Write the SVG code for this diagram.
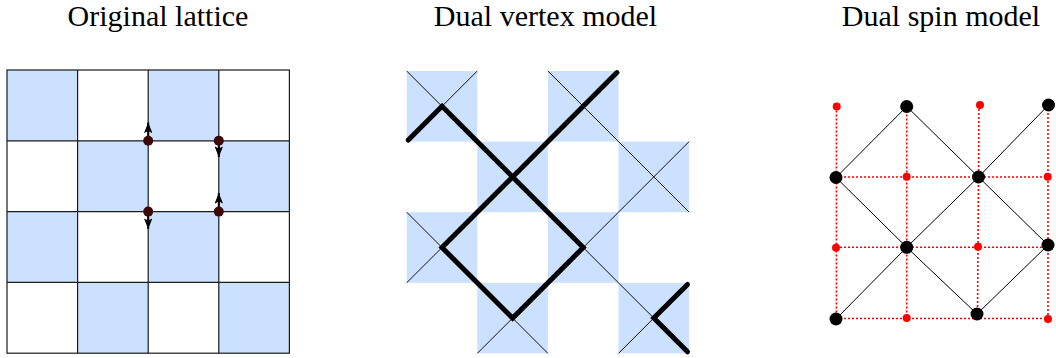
<svg xmlns="http://www.w3.org/2000/svg" width="1056" height="358" viewBox="0 0 1056 358">
<defs>
<style>
.title{font-family:"Liberation Serif","Times New Roman",serif;font-size:30px;fill:#000;text-anchor:middle}
.cell{fill:#cce0ff}
.grid{fill:none;stroke:#1a1a1a;stroke-width:1.2}
.thin{fill:none;stroke:#111;stroke-width:1}
.thick{fill:none;stroke:#000;stroke-width:5;stroke-linejoin:miter;stroke-linecap:round}
.arrow{stroke:#000;stroke-width:2;marker-end:url(#ah)}
.vdot{fill:#3d0808}
.red{fill:none;stroke:#ff0000;stroke-width:1.6;stroke-dasharray:2 2}
.bond{fill:none;stroke:#000;stroke-width:1}
.spin{fill:#000}
.rdot{fill:#ff0000}
</style>
<marker id="ah" viewBox="0 0 10 8" refX="10" refY="4" markerWidth="11" markerHeight="8.5" markerUnits="userSpaceOnUse" orient="auto">
<path d="M0,0 L10,4 L0,8 L2,4 Z" fill="#000"/>
</marker>
</defs>
<rect width="1056" height="358" fill="#fff"/>

<text class="title" x="158" y="25.5">Original lattice</text>
<text class="title" x="545.5" y="25.5">Dual vertex model</text>
<text class="title" x="941" y="25.5">Dual spin model</text>

<!-- Original lattice -->
<g id="original-lattice">
<g id="lattice-cells">
<rect class="cell" x="7" y="70" width="70.6" height="70.8"/>
<rect class="cell" x="148.2" y="70" width="70.6" height="70.8"/>
<rect class="cell" x="77.6" y="140.8" width="70.6" height="70.8"/>
<rect class="cell" x="218.8" y="140.8" width="70.6" height="70.8"/>
<rect class="cell" x="7" y="211.6" width="70.6" height="70.8"/>
<rect class="cell" x="148.2" y="211.6" width="70.6" height="70.8"/>
<rect class="cell" x="77.6" y="282.4" width="70.6" height="70.8"/>
<rect class="cell" x="218.8" y="282.4" width="70.6" height="70.8"/>
</g>
<g id="lattice-grid">
<rect class="grid" x="7" y="70" width="282.4" height="283.2"/>
<path class="grid" d="M77.6,70 V353.2 M148.2,70 V353.2 M218.8,70 V353.2 M7,140.8 H289.4 M7,211.6 H289.4 M7,282.4 H289.4"/>
</g>
<g id="lattice-arrows">
<line class="arrow" x1="148.2" y1="140.8" x2="148.2" y2="122.5"/>
<line class="arrow" x1="218.8" y1="140.8" x2="218.8" y2="157"/>
<line class="arrow" x1="148.2" y1="211.6" x2="148.2" y2="229"/>
<line class="arrow" x1="218.8" y1="211.6" x2="218.8" y2="193"/>
</g>
<g id="v-1-2"><circle class="vdot" cx="148.2" cy="140.8" r="5"/></g>
<g id="v-1-3"><circle class="vdot" cx="218.8" cy="140.8" r="5"/></g>
<g id="v-2-2"><circle class="vdot" cx="148.2" cy="211.6" r="5"/></g>
<g id="v-2-3"><circle class="vdot" cx="218.8" cy="211.6" r="5"/></g>
</g>

<!-- Dual vertex model -->
<g id="dual-vertex-model">
<g id="vertex-cells">
<rect class="cell" x="406.7" y="71" width="70.6" height="70.6"/>
<rect class="cell" x="547.9" y="71" width="70.6" height="70.6"/>
<rect class="cell" x="477.3" y="141.6" width="70.6" height="70.6"/>
<rect class="cell" x="618.5" y="141.6" width="70.6" height="70.6"/>
<rect class="cell" x="406.7" y="212.2" width="70.6" height="70.6"/>
<rect class="cell" x="547.9" y="212.2" width="70.6" height="70.6"/>
<rect class="cell" x="477.3" y="282.8" width="70.6" height="70.6"/>
<rect class="cell" x="618.5" y="282.8" width="70.6" height="70.6"/>
</g>
<g id="vertex-connectors">
<path class="thin" d="M406.7,71 L689.1,353.4 M547.9,71 L689.1,212.2 M406.7,212.2 L547.9,353.4 M406.7,141.6 L477.3,71 M406.7,282.8 L618.5,71 M477.3,353.4 L689.1,141.6 M618.5,353.4 L689.1,282.8"/>
<path class="thick" d="M408.3,140 L442,106.3 L512.6,176.9 L583.2,247.5 L512.6,318.1 L442,247.5 L512.6,176.9 L583.2,106.3 L616.9,72.6"/>
<path class="thick" d="M687.5,284.4 L653.8,318.1 L687.5,351.8"/>
</g>
</g>

<!-- Dual spin model -->
<g id="dual-spin-model">
<g id="spin-connectors">
<path class="red" d="M836.4,106.5 V319 M906.7,106.5 V318 M979,105 L977.5,314 M1048,105 V319 M836,177 H1048 M836,247.3 H1048 M836,318.5 H1048"/>
<path class="bond" d="M906.7,106.5 L836,177.5 M906.7,106.5 L978.5,177 M1048.5,105 L978.5,177 M836,177.5 L906.7,247.3 M978.5,177 L906.7,247.3 M978.5,177 L1048,245 M906.7,247.3 L836,319 M906.7,247.3 L977,314 M1048,245 L977,314"/>
</g>
<g id="r-0-0"><circle class="rdot" cx="836.7" cy="106.5" r="4"/></g>
<g id="r-0-2"><circle class="rdot" cx="980" cy="105" r="4"/></g>
<g id="r-1-1"><circle class="rdot" cx="906.7" cy="176.7" r="4"/></g>
<g id="r-1-3"><circle class="rdot" cx="1047.7" cy="176.7" r="4"/></g>
<g id="r-2-0"><circle class="rdot" cx="836" cy="247.7" r="4"/></g>
<g id="r-2-2"><circle class="rdot" cx="978" cy="246.7" r="4"/></g>
<g id="r-3-1"><circle class="rdot" cx="906.7" cy="318" r="4"/></g>
<g id="r-3-3"><circle class="rdot" cx="1048" cy="319" r="4"/></g>
<g id="s-0-1"><circle class="spin" cx="906.7" cy="106.5" r="6.5"/></g>
<g id="s-0-3"><circle class="spin" cx="1048.5" cy="105" r="6.5"/></g>
<g id="s-1-0"><circle class="spin" cx="836" cy="177.5" r="6.5"/></g>
<g id="s-1-2"><circle class="spin" cx="978.5" cy="177" r="6.5"/></g>
<g id="s-2-1"><circle class="spin" cx="906.7" cy="247.3" r="6.5"/></g>
<g id="s-2-3"><circle class="spin" cx="1048" cy="245" r="6.5"/></g>
<g id="s-3-0"><circle class="spin" cx="836" cy="319" r="6.5"/></g>
<g id="s-3-2"><circle class="spin" cx="977" cy="314" r="6.5"/></g>
</g>
</svg>
